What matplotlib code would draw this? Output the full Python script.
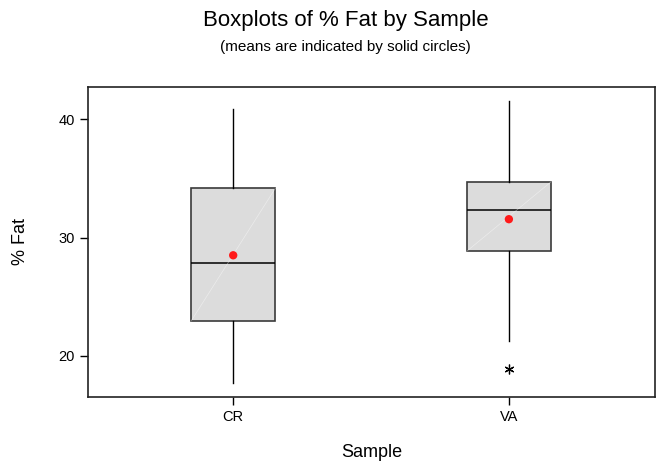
import matplotlib
matplotlib.use("Agg")
import matplotlib.pyplot as plt

plt.rcParams['font.family'] = ['Liberation Sans', 'DejaVu Sans']

categories = ["CR", "VA"]
whislo = [17.7, 21.25]
q1 = [22.95, 28.85]
medians = [27.85, 32.35]
q3 = [34.15, 34.7]
whishi = [40.9, 41.55]
means = [28.5, 31.55]
outliers = [[], [18.9]]

fig = plt.figure(figsize=(6.56, 4.61), dpi=100)
ax = fig.add_axes([0.134, 0.139, 0.8645, 0.6725])

stats = []
for i, c in enumerate(categories):
    stats.append(dict(label=c, whislo=whislo[i], q1=q1[i], med=medians[i],
                      q3=q3[i], whishi=whishi[i], fliers=[]))
pos = [1, 2]
ax.bxp(stats, positions=pos, widths=0.305, showcaps=False, showfliers=False,
       patch_artist=True,
       boxprops=dict(facecolor='#dcdcdc', edgecolor='#3a3a3a', linewidth=1.2),
       medianprops=dict(color='black', linewidth=1.1),
       whiskerprops=dict(color='black', linewidth=1.0))

# faint diagonal highlight inside boxes
for i, p in enumerate(pos):
    ax.plot([p - 0.1525, p + 0.1525], [q1[i], q3[i]], color='white', lw=0.5,
            alpha=0.45, zorder=2.5)

ax.scatter(pos, means, s=36, color='#ff1a1a', zorder=5, edgecolors='none')
for i, p in enumerate(pos):
    if outliers[i]:
        ax.plot([p] * len(outliers[i]), outliers[i], linestyle='none',
                marker=(6, 2, 0), markersize=7, color='black', mew=0.9)

ax.set_xlim(0.473, 2.53)
ax.set_ylim(16.53, 42.73)
ax.set_yticks([20, 30, 40])
ax.set_xticks(pos)
ax.set_xticklabels(categories)
ax.tick_params(direction='out', length=6, width=1, labelsize=10.5, colors='black')
for s in ax.spines.values():
    s.set_linewidth(1.2)
    s.set_color('#222222')

ax.set_xlabel("Sample", fontsize=13, labelpad=14)
ax.set_ylabel("% Fat", fontsize=13, labelpad=21)

fig.text(0.527, 0.955, "Boxplots of % Fat by Sample", ha='center', va='center', fontsize=16)
fig.text(0.527, 0.897, "(means are indicated by solid circles)", ha='center', va='center', fontsize=11)

fig.savefig("out.png", dpi=100)
